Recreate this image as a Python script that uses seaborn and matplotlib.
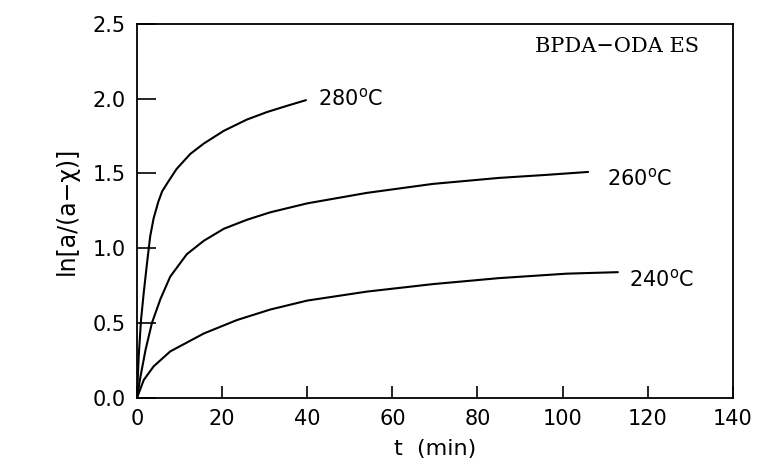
import pandas as pd
import matplotlib
matplotlib.use("Agg")
import matplotlib.pyplot as plt
import seaborn as sns

# values
t_280 = [0, 0.4, 0.94, 1.57, 2.35, 3.1, 3.9, 5.0, 5.9, 7.0, 9.3, 12.5, 15.7, 20.4, 25.8, 30.5, 35, 39.7]
y_280 = [0, 0.28, 0.52, 0.70, 0.90, 1.08, 1.20, 1.31, 1.38, 1.43, 1.53, 1.63, 1.70, 1.785, 1.86, 1.91, 1.95, 1.99]

t_260 = [0, 0.8, 2.0, 3.5, 5.5, 7.8, 11.7, 15.7, 20.4, 25.8, 31.3, 40, 54, 69.5, 85, 96, 106]
y_260 = [0, 0.14, 0.32, 0.50, 0.66, 0.81, 0.96, 1.05, 1.13, 1.19, 1.24, 1.30, 1.37, 1.43, 1.47, 1.49, 1.51]

t_240 = [0, 1.6, 3.9, 7.8, 15.7, 23.5, 31.3, 40, 54, 69.5, 85, 101, 113]
y_240 = [0, 0.12, 0.21, 0.31, 0.43, 0.52, 0.59, 0.65, 0.71, 0.76, 0.80, 0.83, 0.84]

series = {"280": (t_280, y_280), "260": (t_260, y_260), "240": (t_240, y_240)}
label_pos = {"280": (42.5, 2.0), "260": (110.5, 1.47), "240": (115.5, 0.79)}

df = pd.concat(
    [pd.DataFrame({"t": t, "y": y, "T": name}) for name, (t, y) in series.items()],
    ignore_index=True,
)

sns.set_style("ticks")
plt.rcParams["font.family"] = ["DejaVu Sans"]
plt.rcParams["text.color"] = "black"
plt.rcParams["axes.labelcolor"] = "black"
plt.rcParams["xtick.color"] = "black"
plt.rcParams["ytick.color"] = "black"
plt.rcParams["axes.edgecolor"] = "black"

fig = plt.figure(figsize=(7.57, 4.68), dpi=100)
ax = fig.add_axes([0.181, 0.150, 0.787, 0.799])

sns.lineplot(data=df, x="t", y="y", units="T", estimator=None, color="black",
             linewidth=1.5, sort=False, ax=ax, legend=False)

for name, (x, y) in label_pos.items():
    ax.text(x, y, name + r"$^{\rm o}$C", fontsize=15, va="center", ha="left")

ax.text(132, 2.35, "BPDA\u2212ODA ES", fontsize=15, ha="right", va="center",
        family="DejaVu Serif")

ax.set_xlim(0, 140)
ax.set_ylim(0, 2.5)
ax.set_xticks(range(0, 141, 20))
ax.set_yticks([0, 0.5, 1.0, 1.5, 2.0, 2.5])
ax.set_yticklabels(["0.0", "0.5", "1.0", "1.5", "2.0", "2.5"])
ax.tick_params(axis="x", direction="in", length=9, width=1.2, labelsize=15, pad=8)
ax.tick_params(axis="y", direction="in", length=14, width=1.2, labelsize=15, pad=8)
for s in ax.spines.values():
    s.set_visible(True)
    s.set_linewidth(1.3)

ax.set_xlabel("t  (min)", fontsize=16, labelpad=7)
ax.set_ylabel("ln[a/(a\u2212\u03c7)]", fontsize=17, labelpad=10)

fig.savefig("out.png", dpi=100)
